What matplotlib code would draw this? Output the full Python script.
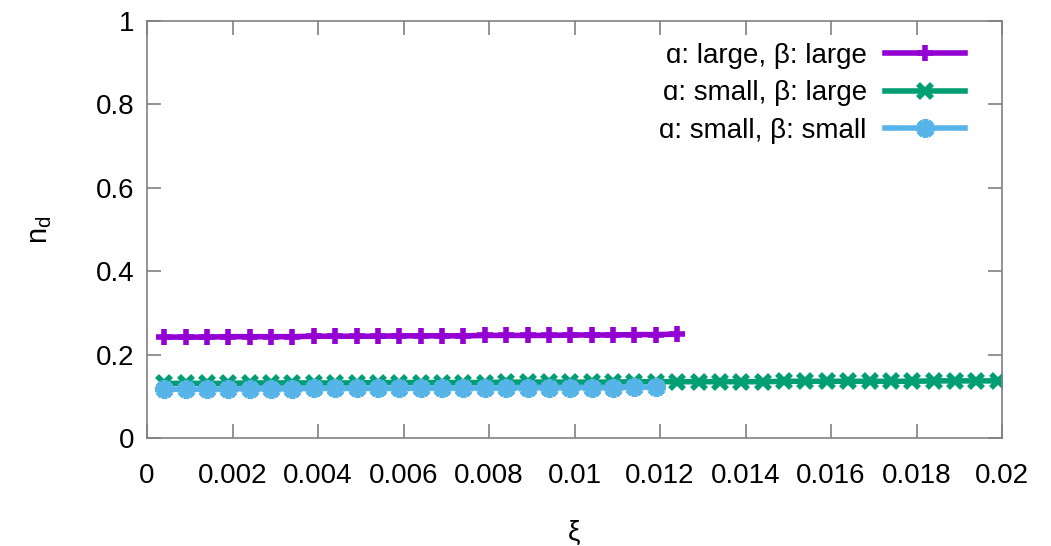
import matplotlib
matplotlib.use("Agg")
import matplotlib.pyplot as plt

plt.rcParams['font.family'] = ['Liberation Sans', 'DejaVu Sans']

# xi values (step 0.0005)
x_ll = [0.0004, 0.0009, 0.0014, 0.0019, 0.0024, 0.0029, 0.0034, 0.0039, 0.0044,
        0.0049, 0.0054, 0.0059, 0.0064, 0.0069, 0.0074, 0.0079, 0.0084, 0.0089,
        0.0094, 0.0099, 0.0104, 0.0109, 0.0114, 0.0119, 0.0124]
y_ll = [0.242, 0.242, 0.242, 0.243, 0.243, 0.243, 0.243, 0.244, 0.244,
        0.244, 0.244, 0.245, 0.245, 0.245, 0.245, 0.246, 0.246, 0.246,
        0.246, 0.247, 0.247, 0.247, 0.248, 0.248, 0.249]

x_sl = [0.0004, 0.0009, 0.0014, 0.0019, 0.0024, 0.0029, 0.0034, 0.0039, 0.0044,
        0.0049, 0.0054, 0.0059, 0.0064, 0.0069, 0.0074, 0.0079, 0.0084, 0.0089,
        0.0094, 0.0099, 0.0104, 0.0109, 0.0114, 0.0119, 0.0124, 0.0129, 0.0134,
        0.0139, 0.0144, 0.0149, 0.0154, 0.0159, 0.0164, 0.0169, 0.0174, 0.0179,
        0.0184, 0.0189, 0.0194, 0.0199]
y_sl = [0.131, 0.131, 0.131, 0.131, 0.132, 0.132, 0.132, 0.132, 0.132,
        0.132, 0.133, 0.133, 0.133, 0.133, 0.133, 0.133, 0.134, 0.134,
        0.134, 0.134, 0.134, 0.134, 0.135, 0.135, 0.135, 0.135, 0.135,
        0.135, 0.135, 0.136, 0.136, 0.136, 0.136, 0.136, 0.136, 0.136,
        0.137, 0.137, 0.137, 0.137]

x_ss = [0.0004, 0.0009, 0.0014, 0.0019, 0.0024, 0.0029, 0.0034, 0.0039, 0.0044,
        0.0049, 0.0054, 0.0059, 0.0064, 0.0069, 0.0074, 0.0079, 0.0084, 0.0089,
        0.0094, 0.0099, 0.0104, 0.0109, 0.0114, 0.0119]
y_ss = [0.117, 0.117, 0.117, 0.118, 0.118, 0.118, 0.118, 0.119, 0.119,
        0.119, 0.119, 0.119, 0.120, 0.120, 0.120, 0.120, 0.120, 0.121,
        0.121, 0.121, 0.121, 0.121, 0.122, 0.122]

labels = ['ɑ: large, β: large', 'ɑ: small, β: large', 'ɑ: small, β: small']
xticks = [0, 0.002, 0.004, 0.006, 0.008, 0.01, 0.012, 0.014, 0.016, 0.018, 0.02]
xticklabels = ['0', '0.002', '0.004', '0.006', '0.008', '0.01', '0.012', '0.014',
               '0.016', '0.018', '0.02']
yticks = [0, 0.2, 0.4, 0.6, 0.8, 1]
yticklabels = ['0', '0.2', '0.4', '0.6', '0.8', '1']

fig = plt.figure(figsize=(10.51, 5.46), dpi=100)
ax = fig.add_axes([0.1399, 0.1978, 0.8135, 0.7637])

ax.plot(x_ll, y_ll, color='#9400D3', lw=4, marker='+', ms=11, mew=4, label=labels[0])
ax.plot(x_sl, y_sl, color='#009E73', lw=4, marker='x', ms=10.5, mew=4, label=labels[1])
ax.plot(x_ss, y_ss, color='#56B4E9', lw=4, marker=(8, 2, 0), ms=13.5, mew=4, label=labels[2])

ax.set_xlim(0, 0.02)
ax.set_ylim(0, 1)
ax.set_xticks(xticks)
ax.set_xticklabels(xticklabels)
ax.set_yticks(yticks)
ax.set_yticklabels(yticklabels)
ax.tick_params(direction='in', length=10, width=1.2, color='#808080',
               top=True, right=True, labelsize=20)
ax.tick_params(axis='x', pad=18)
ax.tick_params(axis='y', pad=9)
for s in ax.spines.values():
    s.set_color('#808080')
    s.set_linewidth(1.2)

ax.set_xlabel('ξ', fontsize=20, labelpad=22)
ax.set_ylabel('n$_\\mathregular{d}$', fontsize=21, labelpad=30)

leg = ax.legend(loc='upper right', bbox_to_anchor=(0.97, 0.975), frameon=False,
                markerfirst=False, fontsize=20, handlelength=2.9, handletextpad=0.65,
                labelspacing=0.42, borderaxespad=0)

fig.savefig('out.png', dpi=100)
